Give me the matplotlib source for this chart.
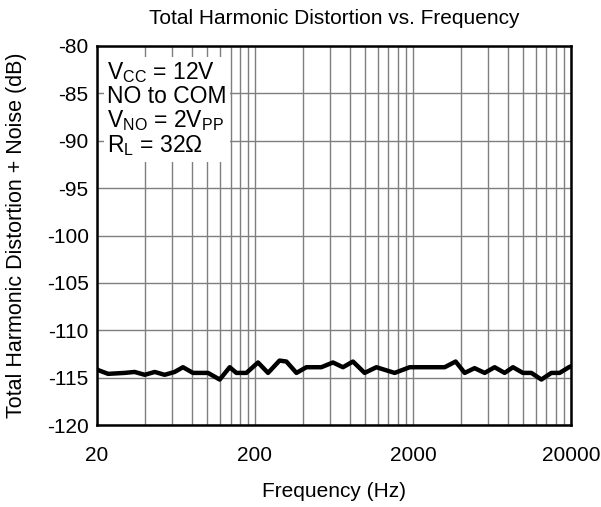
import numpy as np
import matplotlib.pyplot as plt
from matplotlib.ticker import FixedLocator, NullFormatter

plt.rcParams['font.family'] = ['Liberation Sans', 'DejaVu Sans']
plt.rcParams['mathtext.fontset'] = 'custom'
plt.rcParams['mathtext.rm'] = 'Liberation Sans'
plt.rcParams['mathtext.it'] = 'Liberation Sans'
plt.rcParams['axes.unicode_minus'] = False

# THD+N curve
freq_hz = [20, 20.3, 23.5, 29.9, 34.6, 40.1, 46.4, 53.6, 62.0, 70.0, 81.0,
           100.8, 119.6, 138.4, 152.5, 176.5, 209, 242, 286, 316, 366, 423,
           526, 623, 721, 834, 989, 1173, 1532, 1906, 2551, 3176, 3725,
           4250, 4910, 5686, 6577, 7606, 8590, 9935, 11230, 13000, 15030,
           16960, 19420, 20000]
thdn_db = [-114.1, -114.2, -114.6, -114.5, -114.4, -114.7, -114.4, -114.7,
           -114.4, -113.9, -114.5, -114.5, -115.2, -113.9, -114.5, -114.5,
           -113.4, -114.5, -113.2, -113.3, -114.5, -113.9, -113.9, -113.4,
           -113.9, -113.3, -114.5, -113.9, -114.5, -113.9, -113.9, -113.9,
           -113.3, -114.5, -114.0, -114.5, -113.9, -114.5, -113.9, -114.5,
           -114.5, -115.2, -114.5, -114.5, -113.9, -113.8]

x_major = [20, 200, 2000, 20000]
x_minor = [m * d for d in (20, 200, 2000) for m in range(2, 10)]
y_ticks = list(range(-120, -75, 5))

conditions = ("V$_{\\mathregular{CC}}$ = 12V\n"
              "NO to COM\n"
              "V$_{\\mathregular{NO}}$ = 2V$_{\\mathregular{PP}}$\n"
              "R$_{\\mathregular{L}}$ = 32\u03a9")

fig = plt.figure(figsize=(6.01, 5.07), dpi=100)
ax = fig.add_axes([0.1614, 0.1617, 0.7886, 0.7476])

ax.set_xscale('log')
ax.set_xlim(20, 20000)
ax.set_ylim(-120, -80)
ax.xaxis.set_major_locator(FixedLocator(x_major))
ax.xaxis.set_minor_locator(FixedLocator(x_minor))
ax.xaxis.set_minor_formatter(NullFormatter())
ax.set_xticklabels([str(v) for v in x_major])
ax.set_yticks(y_ticks)
ax.tick_params(which='both', length=0, labelsize=15)
ax.tick_params(axis='x', pad=15)
ax.tick_params(axis='y', pad=6)

ax.grid(True, which='both', axis='x', color='#7f7f7f', lw=1)
ax.grid(True, which='major', axis='y', color='#7f7f7f', lw=1)
ax.set_axisbelow(True)

for s in ax.spines.values():
    s.set_linewidth(1.8)

ax.plot(freq_hz, thdn_db, color='black', lw=3.2, solid_joinstyle='round',
        solid_capstyle='round', zorder=3)

ax.text(0.022, 0.962, conditions, transform=ax.transAxes, fontsize=16.5,
        va='top', ha='left', linespacing=1.0, zorder=4,
        bbox=dict(facecolor='white', edgecolor='none', pad=2.5))

ax.set_title("Total Harmonic Distortion vs. Frequency", fontsize=15, pad=16)
ax.set_xlabel("Frequency (Hz)", fontsize=15, labelpad=12)
ax.set_ylabel("Total Harmonic Distortion + Noise (dB)", fontsize=15.5, labelpad=14)

fig.savefig("out.png", dpi=100)
